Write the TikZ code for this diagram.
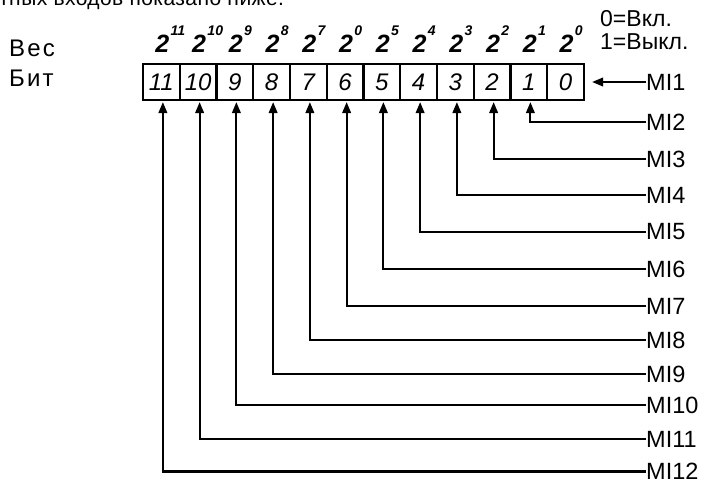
\documentclass[tikz,border=0pt]{standalone}
\usepackage{fontspec}
\setmainfont{Liberation Sans}
\usetikzlibrary{arrows.meta}
\begin{document}
\begin{tikzpicture}[x=1pt,y=-1pt,
  txt/.style={font=\fontsize{24}{24}\selectfont\addfontfeature{LetterSpace=9}, inner sep=0pt, anchor=base west},
  note/.style={font=\fontsize{23}{23}\selectfont, inner sep=0pt, anchor=base west},
  cell/.style={draw, line width=2.1pt, minimum width=36.75pt, minimum height=36pt,
    inner sep=0pt, font=\fontsize{24}{24}\selectfont\itshape},
  pw/.style={font=\fontsize{25}{25}\selectfont\bfseries\itshape, inner sep=0pt, anchor=base},
  ex/.style={font=\fontsize{14}{14}\selectfont\bfseries\itshape, inner sep=0pt, anchor=south west},
  milbl/.style={font=\fontsize{23.5}{23.5}\selectfont, inner sep=0pt, anchor=west},
  arr/.style={line width=2.1pt, -{Triangle[length=11pt,width=8.5pt]}}]
\useasboundingbox (0,0) rectangle (703,481);
\clip (0,0) rectangle (703,481);
\fill[white] (0,0) rectangle (703,481);
% clipped heading line
\node[font=\fontsize{21}{21}\selectfont\addfontfeature{LetterSpace=2}, inner sep=0pt, anchor=base west] (head) at (-1,6) {тных входов показано ниже.};
% left labels
\node[txt] (ves) at (9,56.5) {Вес};
\node[txt] (bit) at (9,87) {Бит};
% legend
\node[note] (on) at (600,27) {0=Вкл.};
\node[note] (off) at (600,50) {1=Выкл.};
% register cells
\foreach \b in {0,...,11}{
  \node[cell] (c\b) at ({143+36.75*(11.5-\b)},82) {\b};
}
% weights
\foreach \b/\e in {11/11,10/10,9/9,8/8,7/7,6/0,5/5,4/4,3/3,2/2,1/1,0/0}{
  \node[pw] (p\b) at ({143+36.75*(11.5-\b)+1},53) {2};
  \node[ex] (e\b) at ([xshift=1pt,yshift=-0.5pt]p\b.north east) {\e};
}
% input labels
\foreach \k/\y in {1/82,2/122,3/159,4/195,5/232,6/269,7/306,8/340,9/374,10/405,11/439,12/471.5}{
  \node[milbl] (mi\k) at (646,\y) {MI\k};
}
% connectors
\draw[arr] (mi1.west) -- ([xshift=7pt]c0.east);
\foreach \k in {2,...,12}{
  \pgfmathtruncatemacro{\b}{\k-1}
  \draw[arr] (mi\k.west) -| ([xshift=1.5pt,yshift=-1pt]c\b.south);
}
\end{tikzpicture}
\end{document}
